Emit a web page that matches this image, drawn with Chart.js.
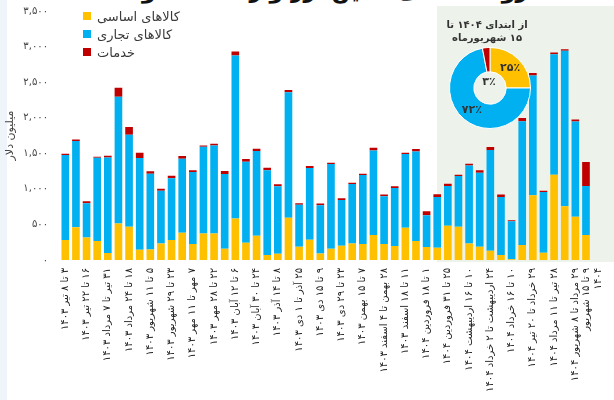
<!DOCTYPE html>
<html lang="fa">
<head>
  <meta charset="UTF-8">
  <title>ارز واردات کالا و خدمات</title>
  <script src="https://cdn.jsdelivr.net/npm/chart.js"></script>
  <style>
    body {
      margin: 0;
      width: 614px;
      height: 400px;
      overflow: hidden;
      position: relative;
      background: #fff;
      font-family: "DejaVu Sans", sans-serif;
    }

    #strip {
      position: absolute;
      left: 0; top: 0;
      width: 7px; height: 400px;
      background: #eef4fa;
    }

    #panel {
      position: absolute;
      left: 437px; top: 6px;
      width: 180px; height: 256px;
      background: #edf3ea;
    }

    #bars {
      position: absolute;
      left: 0; top: -7px;
      direction: rtl;
    }

    #headline {
      position: absolute;
      left: 0; top: -23px;
      width: 590px;
      text-align: center;
      font-weight: bold;
      font-size: 22px;
      line-height: 28px;
      color: #111;
      white-space: nowrap;
    }

    #legend {
      position: absolute;
      left: 83px; top: 7px;
      font-size: 13px;
      color: #3a3a3a;
    }

    #legend div {
      display: flex;
      align-items: center;
      height: 18px;
    }

    #legend i {
      display: inline-block;
      width: 8px; height: 8px;
      margin-right: 6px;
    }

    #donut-title {
      position: absolute;
      left: 437px; top: 18px;
      width: 100px;
      text-align: center;
      font-weight: bold;
      font-size: 10px;
      line-height: 13px;
      color: #333;
    }

    #donut {
      position: absolute;
      left: 449px; top: 47px;
      direction: rtl;
    }
  </style>
</head>
<body>

  <div id="strip"></div>
  <div id="panel"></div>
  <div id="headline" dir="rtl">روند هفتگی تأمین ارز واردات کالا و خدمات</div>

  <canvas id="bars" width="618" height="407"></canvas>

  <div id="legend"></div>
  <div id="donut-title" dir="rtl">از ابتدای ۱۴۰۴ تا<br>۱۵ شهریورماه</div>
  <canvas id="donut" width="82" height="82"></canvas>

  <script>
    // هفته‌ها (فقط یک در میان برچسب دارند)
    const weekLabels = [
      '۳ تا ۸ تیر ۱۴۰۳', '', '۱۶ تا ۲۲ تیر ۱۴۰۳', '', '۳۱ تیر تا ۷ مرداد ۱۴۰۳', '',
      '۱۸ تا ۲۴ مرداد ۱۴۰۳', '', '۵ تا ۱۱ شهریور ۱۴۰۳', '', '۲۳ تا ۲۹ شهریور ۱۴۰۳', '',
      '۷ مهر تا ۱۱ مهر ۱۴۰۳', '', '۲۲ تا ۲۸ مهر ۱۴۰۳', '', '۶ تا ۱۲ آبان ۱۴۰۳', '',
      '۲۴ تا ۳۰ آبان ۱۴۰۳', '', '۸ تا ۱۴ آذر ۱۴۰۳', '', '۲۵ آذر تا ۱ دی ۱۴۰۳', '',
      '۹ تا ۱۵ دی ۱۴۰۳', '', '۲۳ تا ۲۹ دی ۱۴۰۳', '', '۷ تا ۱۵ بهمن ۱۴۰۳', '',
      '۲۸ بهمن تا ۴ اسفند ۱۴۰۳', '', '۱۱ تا ۱۸ اسفند ۱۴۰۳', '', '۱ تا ۱۸ فروردین ۱۴۰۴', '',
      '۲۵ تا ۳۱ فروردین ۱۴۰۴', '', '۱۰ تا ۱۶ اردیبهشت ۱۴۰۴', '', '۲۴ اردیبهشت تا ۲ خرداد ۱۴۰۴', '',
      '۱۰ تا ۱۶ خرداد ۱۴۰۴', '', '۲۹ خرداد تا ۲۰ تیر ۱۴۰۴', '', '۲۸ تیر تا ۱۱ مرداد ۱۴۰۴', '',
      '۲۹ مرداد تا ۸ شهریور ۱۴۰۴', ['۹ تا ۱۵ شهریور', '۱۴۰۴']
    ];

    // میلیون دلار
    const basicGoods = [280, 462, 317, 266, 98, 513, 467, 145, 149, 233, 280, 383, 224, 373, 373, 159, 583,
      243, 341, 70, 89, 593, 187, 285, 93, 159, 201, 233, 224, 350, 224, 196, 453, 266, 182, 173, 481,
      467, 233, 187, 131, 70, 10, 210, 910, 103, 1199, 756, 607, 350];
    const tradeGoods = [1195, 1209, 481, 1171, 1344, 1783, 1292, 1288, 1064, 742, 868, 1040, 1013, 1218,
      1237, 1050, 2292, 1138, 1190, 1190, 947, 1764, 588, 1008, 677, 1190, 644, 836, 971, 1190, 672, 817,
      1036, 1260, 448, 714, 559, 714, 1097, 1040, 1414, 817, 536, 1741, 1685, 854, 1694, 2184, 1339, 691];
    const services = [20, 23, 28, 14, 23, 126, 112, 74, 33, 28, 37, 38, 23, 19, 23, 42, 56, 38, 32, 37,
      28, 32, 23, 28, 23, 18, 23, 18, 18, 37, 23, 23, 18, 33, 56, 37, 33, 18, 23, 33, 42, 32, 14, 46, 32,
      18, 24, 23, 28, 336];

    // سهم از ابتدای ۱۴۰۴ (درصد)
    const shares = [25, 72, 3];

    const seriesNames = ['کالاهای اساسی', 'کالاهای تجاری', 'خدمات'];
    const colors = ['#ffc000', '#00b0f0', '#c00000'];

    const FONT = 'DejaVu Sans';
    const faDigits = '۰۱۲۳۴۵۶۷۸۹';
    function toFa(n) {
      return n.toLocaleString('en-US').replace(/\d/g, d => faDigits[d]);
    }

    // legend
    document.getElementById('legend').innerHTML = seriesNames.map((name, i) =>
      `<div><i style="background:${colors[i]}"></i><span dir="rtl">${name}</span></div>`
    ).join('');

    new Chart(document.getElementById('bars'), {
      type: 'bar',
      data: {
        labels: weekLabels,
        datasets: [
          { label: seriesNames[0], data: basicGoods, backgroundColor: colors[0] },
          { label: seriesNames[1], data: tradeGoods, backgroundColor: colors[1] },
          { label: seriesNames[2], data: services, backgroundColor: colors[2] }
        ]
      },
      options: {
        responsive: false,
        animation: false,
        layout: { padding: { top: 0, right: 2, left: 0, bottom: 0 } },
        datasets: { bar: { barPercentage: 0.72, categoryPercentage: 1 } },
        plugins: {
          legend: { display: false },
          tooltip: { enabled: false }
        },
        scales: {
          x: {
            stacked: true,
            grid: { display: false, drawTicks: false },
            border: { display: false },
            ticks: {
              autoSkip: false,
              maxRotation: 90,
              minRotation: 90,
              padding: 8,
              color: '#222',
              font: { family: FONT, size: 10 }
            },
            afterFit(scale) { scale.height = 140; }
          },
          y: {
            stacked: true,
            min: 0,
            max: 3500,
            grid: { display: false, drawTicks: false },
            border: { display: false },
            ticks: {
              stepSize: 500,
              padding: 12,
              color: '#444',
              font: { family: FONT, size: 10 },
              callback: v => toFa(v)
            },
            title: {
              display: true,
              text: 'میلیون دلار',
              color: '#444',
              font: { family: FONT, size: 11 },
              padding: { top: 4, bottom: 0 }
            },
            afterFit(scale) { scale.width = 60; }
          }
        }
      }
    });

    // percentage labels on the ring, small slice goes in the hole
    const ringLabels = {
      id: 'ringLabels',
      afterDatasetsDraw(chart) {
        const ctx = chart.ctx;
        const arcs = chart.getDatasetMeta(0).data;
        ctx.save();
        ctx.font = 'bold 11px ' + FONT;
        ctx.fillStyle = '#333';
        ctx.textAlign = 'center';
        ctx.textBaseline = 'middle';
        arcs.forEach((arc, i) => {
          const txt = toFa(shares[i]) + '٪';
          if (shares[i] < 5) {
            ctx.fillText(txt, arc.x - 1, arc.y - 6);
          } else {
            const p = arc.tooltipPosition();
            ctx.fillText(txt, p.x, p.y);
          }
        });
        ctx.restore();
      }
    };

    new Chart(document.getElementById('donut'), {
      type: 'doughnut',
      data: {
        labels: seriesNames,
        datasets: [{
          data: shares,
          backgroundColor: colors,
          borderColor: '#fff',
          borderWidth: 1
        }]
      },
      options: {
        responsive: false,
        animation: false,
        cutout: '40%',
        plugins: {
          legend: { display: false },
          tooltip: { enabled: false }
        }
      },
      plugins: [ringLabels]
    });
  </script>

</body>
</html>
